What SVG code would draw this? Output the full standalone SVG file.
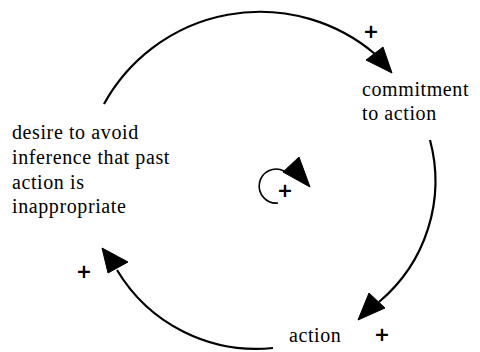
<svg xmlns="http://www.w3.org/2000/svg" width="480" height="352" viewBox="0 0 480 352">
  <style>
    .link { fill: none; stroke: #000; stroke-width: 2.2; }
    .loop { fill: none; stroke: #000; stroke-width: 1.6; }
    .head { fill: #000; stroke: #000; stroke-width: 1; stroke-linejoin: miter; }
    .sign { font-family: "DejaVu Sans", sans-serif; font-size: 19px; font-weight: bold; fill: #000; text-anchor: middle; }
  </style>

  <rect width="480" height="352" fill="#fff"/>

  <!-- causal links -->
  <g id="connectors">
    <path class="link" d="M104,104 A178,178 0 0 1 375,54"/>
    <polygon class="head" points="392,73 366,60 383,47"/>
    <text class="sign" x="371" y="38">+</text>

    <path class="link" d="M430,140 A158,158 0 0 1 379,302"/>
    <polygon class="head" points="358,320 369,293 385,308"/>
    <text class="sign" x="382" y="341">+</text>

    <path class="link" d="M273,348 A162,162 0 0 1 117,270"/>
    <polygon class="head" points="102,248 108,273 128,262"/>
    <text class="sign" x="84" y="278">+</text>
  </g>

  <!-- reinforcing loop marker -->
  <g id="loop-marker">
    <path class="loop" d="M284,171 A17,17 0 1 0 278,203"/>
    <polygon class="head" points="283,172 299,157 310,187"/>
    <text class="sign" x="285" y="197">+</text>
  </g>

  <g id="desire" fill="#000">
    <text x="12" y="139" font-family="Liberation Serif" font-size="20" letter-spacing="0.6">desire to avoid</text>
    <text x="12" y="164" font-family="Liberation Serif" font-size="20" letter-spacing="0.6">inference that past</text>
    <text x="12" y="189" font-family="Liberation Serif" font-size="20" letter-spacing="0.6">action is</text>
    <text x="12" y="213" font-family="Liberation Serif" font-size="20" letter-spacing="0.6">inappropriate</text>
  </g>

  <g id="commitment" fill="#000">
    <text x="362" y="96" font-family="Liberation Serif" font-size="20" letter-spacing="0.6">commitment</text>
    <text x="362" y="120" font-family="Liberation Serif" font-size="20" letter-spacing="0.6">to action</text>
  </g>

  <g id="action" fill="#000">
    <text x="289" y="342" font-family="Liberation Serif" font-size="20" letter-spacing="0.6">action</text>
  </g>
</svg>
